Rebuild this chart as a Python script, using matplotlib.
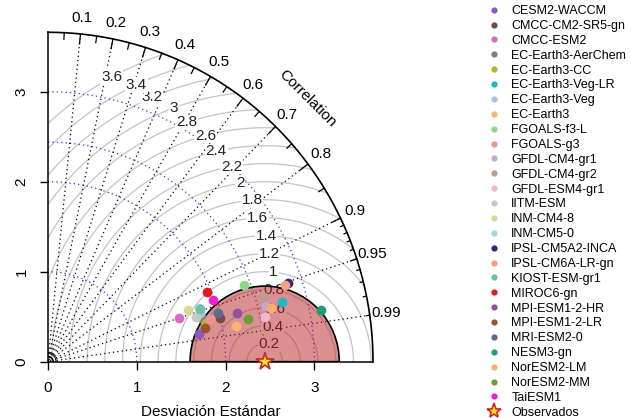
import numpy as np
import matplotlib
matplotlib.use("Agg")
import matplotlib.pyplot as plt
from matplotlib.lines import Line2D
from matplotlib.patches import Wedge

plt.rcParams['font.family'] = ['Liberation Sans', 'DejaVu Sans']

# reference (observed) standard deviation and outer radius
sd_ref = 2.44
max_sd = 3.66

models = ["CESM2-WACCM", "CMCC-CM2-SR5-gn", "CMCC-ESM2", "EC-Earth3-AerChem",
          "EC-Earth3-CC", "EC-Earth3-Veg-LR", "EC-Earth3-Veg", "EC-Earth3",
          "FGOALS-f3-L", "FGOALS-g3", "GFDL-CM4-gr1", "GFDL-CM4-gr2",
          "GFDL-ESM4-gr1", "IITM-ESM", "INM-CM4-8", "INM-CM5-0",
          "IPSL-CM5A2-INCA", "IPSL-CM6A-LR-gn", "KIOST-ESM-gr1", "MIROC6-gn",
          "MPI-ESM1-2-HR", "MPI-ESM1-2-LR", "MRI-ESM2-0", "NESM3-gn",
          "NorESM2-LM", "NorESM2-MM", "TaiESM1"]
colors = ["#8a5cc2", "#7a4a40", "#d66cc0", "#7f7f7f",
          "#b5b52a", "#20b8c8", "#a8c0ea", "#fdb070",
          "#90d888", "#f79090", "#c0a8d8", "#c09a90",
          "#f4b4cc", "#c8c8c8", "#d8d890", "#a0d8e4",
          "#2a2a78", "#f8a080", "#66c2a5", "#e31a1c",
          "#984ea3", "#a0522d", "#5f6a90", "#1b9e77",
          "#fdae6b", "#6f9a3a", "#f020d0"]
# point positions (x = sd*cor, y = sd*sqrt(1-cor^2))
pt_x = [1.70, 1.94, 1.48, 1.74, 1.78, 2.64, 1.71, 2.12,
        2.21, 1.82, 2.45, 2.43, 2.44, 1.67, 1.58, 1.70,
        2.70, 2.67, 1.71, 1.79, 2.13, 1.77, 1.92, 3.07,
        2.51, 2.25, 1.86]
pt_y = [0.31, 0.49, 0.49, 0.48, 0.43, 0.66, 0.54, 0.40,
        0.85, 0.47, 0.62, 0.72, 0.50, 0.50, 0.57, 0.60,
        0.88, 0.85, 0.59, 0.77, 0.54, 0.38, 0.54, 0.57,
        0.60, 0.47, 0.69]

cor_lines = [0.1, 0.2, 0.3, 0.4, 0.5, 0.6, 0.7, 0.8, 0.9, 0.95, 0.99]
sd_arcs = [1, 2, 3]
rms_levels = [0.2, 0.4, 0.6, 0.8, 1, 1.2, 1.4, 1.6, 1.8, 2, 2.2, 2.4,
              2.6, 2.8, 3, 3.2, 3.4, 3.6]
sd_ticks = [0, 1, 2, 3]

fig = plt.figure(figsize=(6.31, 4.18), dpi=100)
ax = fig.add_axes([48/631, (418-361.7)/418, 325/631, 329.4/418])
ax.set_xlim(0, max_sd)
ax.set_ylim(0, max_sd)

# rms (gamma) curves around the reference point
t = np.linspace(0, np.pi, 600)
lab_idx = np.floor(np.linspace(45, 70, len(rms_levels))) - 1
for g, li in zip(rms_levels, lab_idx):
    xc = sd_ref + g*np.cos(t)
    yc = g*np.sin(t)
    ok = (xc >= 0) & (xc**2 + yc**2 <= max_sd**2)
    ax.plot(np.where(ok, xc, np.nan), yc, color="#c4c4c4", lw=0.9, zorder=1)
    ang = 0.03*li
    lx, ly = sd_ref + g*np.cos(ang), g*np.sin(ang)
    if lx > 0:
        ax.text(lx, ly, ("%g" % g), ha="center", va="center", fontsize=11,
                color="#222222", zorder=3,
                bbox=dict(boxstyle="square,pad=0.05", fc="white", ec="none"))

# standard deviation arcs
a = np.linspace(0, np.pi/2, 200)
for s in sd_arcs + [sd_ref]:
    ax.plot(s*np.cos(a), s*np.sin(a), color="#3333dd", lw=0.9, ls=(0, (1, 2.5)), zorder=2)
for s in [0.03, 0.06, 0.09]:
    ax.plot(s*np.cos(a), s*np.sin(a), color="black", lw=0.7, zorder=2)

# correlation rays
for c in cor_lines:
    ax.plot([0, max_sd*c], [0, max_sd*np.sqrt(1-c**2)], color="black", lw=0.9,
            ls=(0, (1, 2.5)), zorder=2)

# outer arc and ticks
ax.plot(max_sd*np.cos(a), max_sd*np.sin(a), color="black", lw=1.2, zorder=4, clip_on=False)
for cs, fr in [(np.arange(0.1, 0.91, 0.1), 0.97), (np.arange(0.05, 0.96, 0.1), 0.98),
               (np.arange(0.91, 0.995, 0.01), 0.99)]:
    th = np.arccos(cs)
    for tt in th:
        ax.plot([max_sd*np.cos(tt), fr*max_sd*np.cos(tt)],
                [max_sd*np.sin(tt), fr*max_sd*np.sin(tt)], color="black", lw=0.9,
                zorder=4, clip_on=False)
for c in cor_lines:
    tt = np.arccos(c)
    ax.text(1.05*max_sd*np.cos(tt), 1.05*max_sd*np.sin(tt), "%g" % c, ha="center",
            va="center", fontsize=11, clip_on=False)
ax.text(1.13*max_sd*np.cos(np.pi/4), 1.13*max_sd*np.sin(np.pi/4), "Correlation",
        rotation=-45, ha="center", va="center", fontsize=11, rotation_mode="anchor")

# shaded semicircle around the observations
ax.add_patch(Wedge((sd_ref, 0), 0.84, 0, 180, fc="firebrick", alpha=0.5, ec="none", zorder=5))
ax.add_patch(Wedge((sd_ref, 0), 0.84, 0, 180, fc="none", ec="black", lw=1.2, zorder=5))

# model points and observed star
for xv, yv, cl in zip(pt_x, pt_y, colors):
    ax.plot(xv, yv, "o", color=cl, ms=7, mec="none", zorder=6)
ax.plot(sd_ref, 0, marker="*", ms=13, mfc="#ffe02a", mec="#c8281e", mew=1.2,
        zorder=7, clip_on=False)

# axes
for sp in ["top", "right"]:
    ax.spines[sp].set_visible(False)
ax.spines["left"].set_linewidth(1.1)
ax.spines["bottom"].set_linewidth(1.1)
ax.set_xticks(sd_ticks)
ax.set_yticks(sd_ticks)
ax.set_xticklabels([str(v) for v in sd_ticks], fontsize=11)
ax.set_yticklabels([str(v) for v in sd_ticks], fontsize=11, rotation=90, va="center")
ax.tick_params(length=6, width=1, pad=8)
ax.set_xlabel("Desviación Estándar", fontsize=11, labelpad=7)

handles = [Line2D([], [], ls="none", marker="o", ms=4.5, color=cl, mec="none") for cl in colors]
handles.append(Line2D([], [], ls="none", marker="*", ms=11, mfc="#ffe02a",
                      mec="#c8281e", mew=1.2))
fig.legend(handles, models + ["Observados"], loc="upper left",
           bbox_to_anchor=(480/631, 1.0), frameon=False, fontsize=9,
           labelspacing=0.23, handletextpad=0.7, handlelength=1.4, borderaxespad=0.0,
           borderpad=0.4)

fig.savefig("out.png", dpi=100)
